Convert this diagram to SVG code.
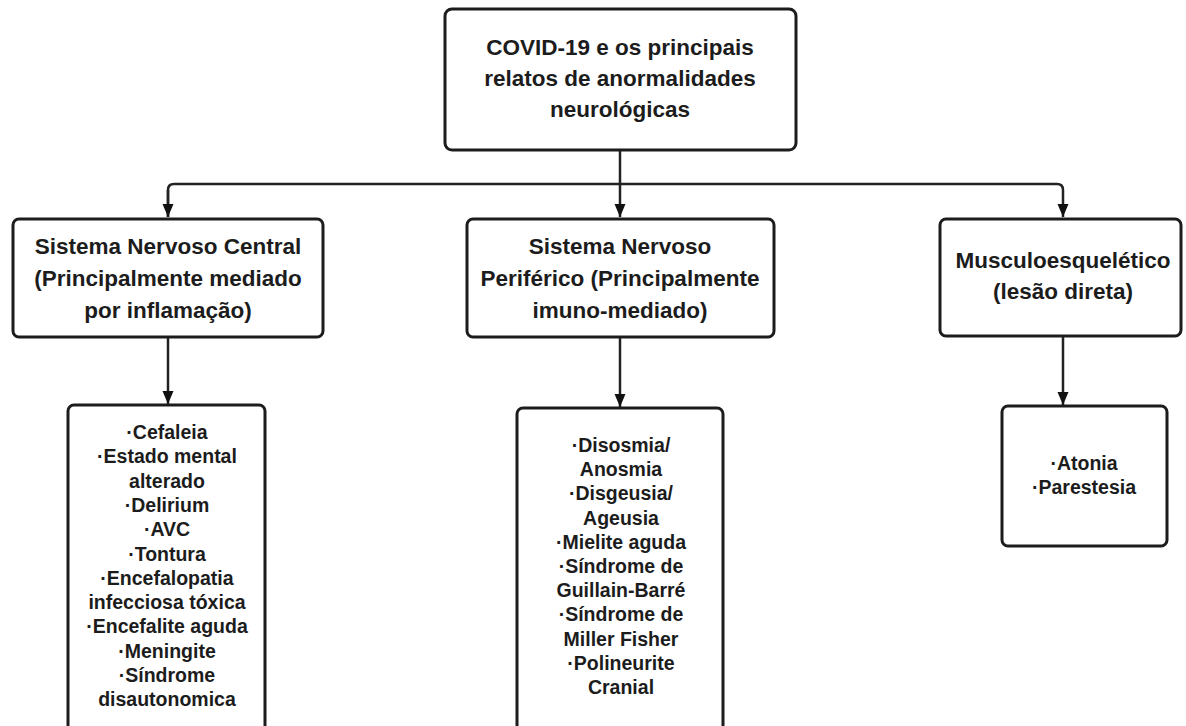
<svg xmlns="http://www.w3.org/2000/svg" width="1186" height="726" viewBox="0 0 1186 726">
<style>
.box{fill:#fff;stroke:#1c1c1c;stroke-width:3}
.t{font-family:"Liberation Sans",Arial,sans-serif;font-weight:bold;fill:#1c1c1c;text-anchor:middle}
.h{font-size:22.5px}
.l{font-size:19.5px}
.c{fill:none;stroke:#222;stroke-width:2.5}
</style>
<defs>
<marker id="ah" markerUnits="userSpaceOnUse" markerWidth="14" markerHeight="14" viewBox="0 0 14 14" refX="13" refY="7" orient="auto">
<path d="M0,1.5 L13,7 L0,12.5 Z" fill="#111"/>
</marker>
</defs>
<g id="connectors">
<path class="c" d="M620,150 V217" marker-end="url(#ah)"/>
<path class="c" d="M168,217 V190 Q168,184 174,184 H1057 Q1063,184 1063,190 V217" marker-end="url(#ah)"/>
<path class="c" d="M168,190 V217" marker-end="url(#ah)"/>
<path class="c" d="M168,337 V404" marker-end="url(#ah)"/>
<path class="c" d="M620,337 V407" marker-end="url(#ah)"/>
<path class="c" d="M1063,336 V405" marker-end="url(#ah)"/>
</g>
<g id="root">
<rect class="box" x="445" y="9" width="351" height="141" rx="7"/>
<text class="t h" x="620" y="55">COVID-19 e os principais<tspan x="620" dy="31">relatos de anormalidades</tspan><tspan x="620" dy="31">neurológicas</tspan></text>
</g>
<g id="snc">
<rect class="box" x="13" y="219" width="310" height="118" rx="6"/>
<text class="t h" x="168" y="254">Sistema Nervoso Central<tspan x="168" dy="32">(Principalmente mediado</tspan><tspan x="168" dy="32">por inflamação)</tspan></text>
</g>
<g id="snp">
<rect class="box" x="467" y="219" width="307" height="118" rx="6"/>
<text class="t h" x="620" y="254">Sistema Nervoso<tspan x="620" dy="32">Periférico (Principalmente</tspan><tspan x="620" dy="32">imuno-mediado)</tspan></text>
</g>
<g id="musc">
<rect class="box" x="940" y="219" width="241" height="117" rx="6"/>
<text class="t h" x="1063" y="268">Musculoesquelético<tspan x="1063" dy="31">(lesão direta)</tspan></text>
</g>
<g id="snc-list">
<rect class="box" x="68" y="405" width="197" height="340" rx="6"/>
<text class="t l" x="167" y="439">·Cefaleia<tspan x="167" dy="24.3">·Estado mental</tspan><tspan x="167" dy="24.3">alterado</tspan><tspan x="167" dy="24.3">·Delirium</tspan><tspan x="167" dy="24.3">·AVC</tspan><tspan x="167" dy="24.3">·Tontura</tspan><tspan x="167" dy="24.3">·Encefalopatia</tspan><tspan x="167" dy="24.3">infecciosa tóxica</tspan><tspan x="167" dy="24.3">·Encefalite aguda</tspan><tspan x="167" dy="24.3">·Meningite</tspan><tspan x="167" dy="24.3">·Síndrome</tspan><tspan x="167" dy="24.3">disautonomica</tspan></text>
</g>
<g id="snp-list">
<rect class="box" x="517" y="408" width="206" height="340" rx="6"/>
<text class="t l" x="621" y="452">·Disosmia/<tspan x="621" dy="24.2">Anosmia</tspan><tspan x="621" dy="24.2">·Disgeusia/</tspan><tspan x="621" dy="24.2">Ageusia</tspan><tspan x="621" dy="24.2">·Mielite aguda</tspan><tspan x="621" dy="24.2">·Síndrome de</tspan><tspan x="621" dy="24.2">Guillain-Barré</tspan><tspan x="621" dy="24.2">·Síndrome de</tspan><tspan x="621" dy="24.2">Miller Fisher</tspan><tspan x="621" dy="24.2">·Polineurite</tspan><tspan x="621" dy="24.2">Cranial</tspan></text>
</g>
<g id="musc-list">
<rect class="box" x="1002" y="406" width="165" height="140" rx="6"/>
<text class="t l" x="1084" y="470">·Atonia<tspan x="1084" dy="24">·Parestesia</tspan></text>
</g>
</svg>
